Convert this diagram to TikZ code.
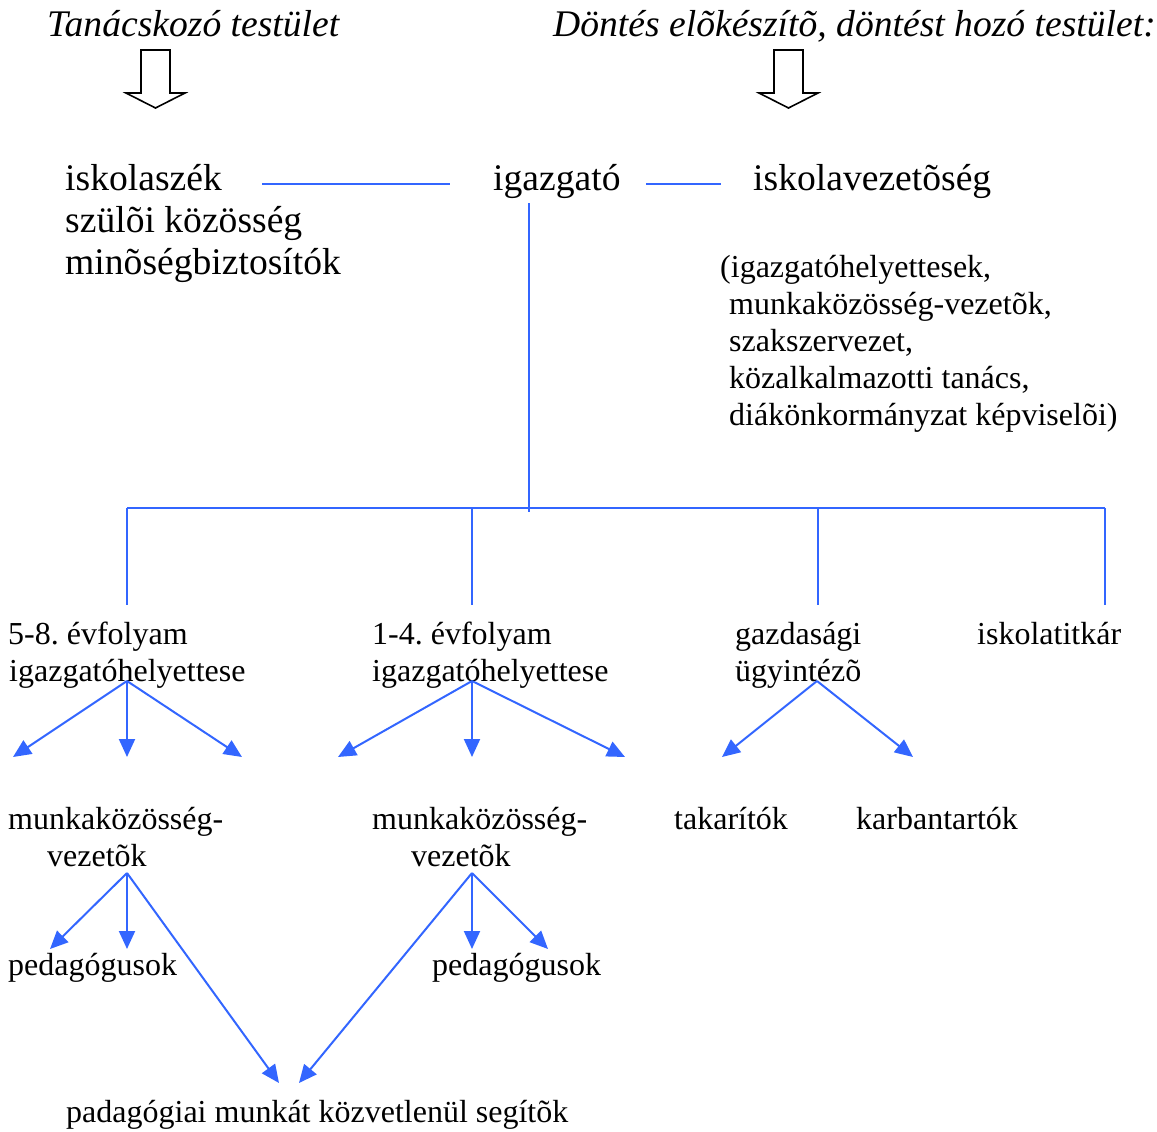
\documentclass[tikz,border=0pt]{standalone}
\usepackage{fontspec}
\setmainfont{Liberation Serif}
\usetikzlibrary{arrows.meta}
\definecolor{lblue}{RGB}{51,102,255}
\frenchspacing
\begin{document}
\begin{tikzpicture}[x=1pt,y=-1pt,
  big/.style={anchor=base west,inner sep=0pt,font=\fontsize{37.6}{42}\selectfont},
  ital/.style={anchor=base west,inner sep=0pt,font=\fontsize{37.6}{42}\selectfont\itshape},
  sml/.style={anchor=base west,inner sep=0pt,font=\fontsize{32}{37}\selectfont},
  conn/.style={draw=lblue,line width=2pt},
  arr/.style={conn,-{Triangle[length=18pt,width=16pt]}},
  hollow/.style={draw=black,line width=1.6pt,fill=white,line join=miter}]
\useasboundingbox (0,0) rectangle (1157,1132);

% headers
\node[ital] (h1) at (47,37) {Tanácskozó testület};
\node[ital] (h2) at (553,37) {Döntés elõkészítõ, döntést hozó testület:};
\draw[hollow] (141,50) -- (170,50) -- (170,93) -- (185,93) -- (155.5,108) -- (126,93) -- (141,93) -- cycle;
\draw[hollow] (774,50) -- (803,50) -- (803,93) -- (818,93) -- (788.5,108) -- (759,93) -- (774,93) -- cycle;

% top row
\node[big] (isk) at (65,190) {iskolaszék};
\node[big] (szu) at (65,232) {szülõi közösség};
\node[big] (min) at (65,274) {minõségbiztosítók};
\node[big] (igaz) at (493,190) {igazgató};
\node[big] (ivez) at (753,190) {iskolavezetõség};

\node[sml] (p1) at (720,277) {(igazgatóhelyettesek,};
\node[sml] (p2) at (729,314) {munkaközösség-vezetõk,};
\node[sml] (p3) at (729,351) {szakszervezet,};
\node[sml] (p4) at (729,388) {közalkalmazotti tanács,};
\node[sml] (p5) at (729,425) {diákönkormányzat képviselõi)};

\coordinate (la) at (262,184);
\coordinate (lb) at (450,184);
\coordinate (ra) at (646,184);
\coordinate (rb) at (721,184);
\draw[conn] (la) -- (lb);
\draw[conn] (ra) -- (rb);

\coordinate (vtop) at (529,203);
\coordinate (vbot) at (529,512);
\draw[conn] (vtop) -- (vbot);
\coordinate (b1) at (127,508);
\coordinate (b2) at (472,508);
\coordinate (b3) at (818,508);
\coordinate (b4) at (1105,508);
\draw[conn] (b1) -- (b4);
\coordinate (e1) at (127,605);
\coordinate (e2) at (472,605);
\coordinate (e3) at (818,605);
\coordinate (e4) at (1105,605);
\draw[conn] (b1) -- (e1);
\draw[conn] (b2) -- (e2);
\draw[conn] (b3) -- (e3);
\draw[conn] (b4) -- (e4);

% second level
\node[sml] (g1a) at (8,644) {5-8. évfolyam};
\node[sml] (g1b) at (9,681) {igazgatóhelyettese};
\node[sml] (g2a) at (372,644) {1-4. évfolyam};
\node[sml] (g2b) at (372,681) {igazgatóhelyettese};
\node[sml] (g3a) at (735,644) {gazdasági};
\node[sml] (g3b) at (735,681) {ügyintézõ};
\node[sml] (g4) at (977,644) {iskolatitkár};

\coordinate (o1) at (127,681);
\coordinate (o2) at (472,681);
\coordinate (o3) at (817,681);
\coordinate (t11) at (13,757);
\coordinate (t12) at (127,757);
\coordinate (t13) at (242,757);
\coordinate (t21) at (338,757);
\coordinate (t22) at (472,757);
\coordinate (t23) at (625,757);
\coordinate (t31) at (722,757);
\coordinate (t32) at (913,757);
\draw[arr] (o1) -- (t11);
\draw[arr] (o1) -- (t12);
\draw[arr] (o1) -- (t13);
\draw[arr] (o2) -- (t21);
\draw[arr] (o2) -- (t22);
\draw[arr] (o2) -- (t23);
\draw[arr] (o3) -- (t31);
\draw[arr] (o3) -- (t32);

% third level
\node[sml] (m1a) at (8,829) {munkaközösség-};
\node[sml] (m1b) at (47,866) {vezetõk};
\node[sml] (m2a) at (372,829) {munkaközösség-};
\node[sml] (m2b) at (411,866) {vezetõk};
\node[sml] (tak) at (674,829) {takarítók};
\node[sml] (karb) at (856,829) {karbantartók};

\node[sml] (ped1) at (8,975) {pedagógusok};
\node[sml] (ped2) at (432,975) {pedagógusok};
\node[sml] (seg) at (66,1122) {padagógiai munkát közvetlenül segítõk};

\coordinate (o4) at (127,873);
\coordinate (o5) at (472,873);
\coordinate (t41) at (50,949);
\coordinate (t42) at (127,949);
\coordinate (t43) at (279,1083);
\coordinate (t51) at (472,949);
\coordinate (t52) at (548,949);
\coordinate (t53) at (299,1083);
\draw[arr] (o4) -- (t41);
\draw[arr] (o4) -- (t42);
\draw[arr] (o4) -- (t43);
\draw[arr] (o5) -- (t51);
\draw[arr] (o5) -- (t52);
\draw[arr] (o5) -- (t53);
\end{tikzpicture}
\end{document}
